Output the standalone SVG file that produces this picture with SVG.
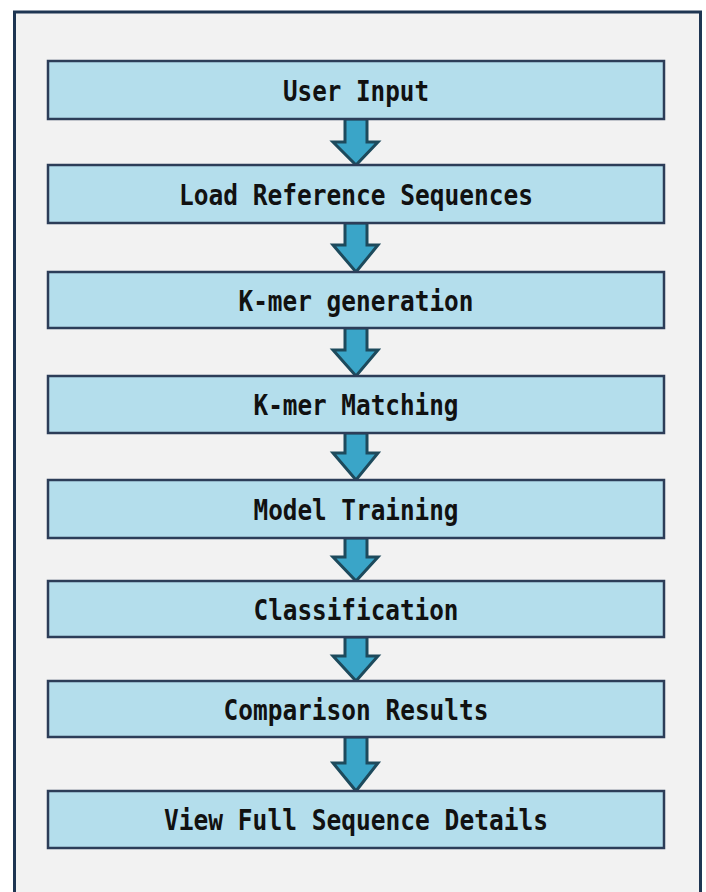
<svg xmlns="http://www.w3.org/2000/svg" width="706" height="892" viewBox="0 0 706 892">
<style>
.box{fill:#b4deec;stroke:#2c3d58;stroke-width:2.5}
.lbl{font-family:"DejaVu Sans Mono","Liberation Mono",monospace;font-size:29px;font-weight:bold;fill:#111;text-anchor:middle}
.arr{fill:#3aa5c8;stroke:#1d4a5c;stroke-width:3;stroke-linejoin:miter}
</style>
<rect x="0" y="0" width="706" height="892" fill="#ffffff"/>
<rect x="14.5" y="12" width="686" height="900" fill="#f2f2f2" stroke="#1e3552" stroke-width="3"/>
<g id="connectors">
<path class="arr" d="M345,119 V142 H333 L356,165 L378,142 H367 V119 Z"/>
<path class="arr" d="M345,223 V245 H333 L356,272 L378,245 H367 V223 Z"/>
<path class="arr" d="M345,328 V350 H333 L356,376 L378,350 H367 V328 Z"/>
<path class="arr" d="M345,433 V453 H333 L356,480 L378,453 H367 V433 Z"/>
<path class="arr" d="M345,538 V557 H333 L356,581 L378,557 H367 V538 Z"/>
<path class="arr" d="M345,637 V656 H333 L356,681 L378,656 H367 V637 Z"/>
<path class="arr" d="M345,737 V763 H333 L356,791 L378,763 H367 V737 Z"/>
</g>
<g id="n1"><rect class="box" x="48" y="61" width="616" height="58"/><text class="lbl" x="356" y="101" textLength="146" lengthAdjust="spacingAndGlyphs">User Input</text></g>
<g id="n2"><rect class="box" x="48" y="165" width="616" height="58"/><text class="lbl" x="356" y="205" textLength="354" lengthAdjust="spacingAndGlyphs">Load Reference Sequences</text></g>
<g id="n3"><rect class="box" x="48" y="272" width="616" height="56"/><text class="lbl" x="356" y="311" textLength="235" lengthAdjust="spacingAndGlyphs">K-mer generation</text></g>
<g id="n4"><rect class="box" x="48" y="376" width="616" height="57"/><text class="lbl" x="356" y="415" textLength="205" lengthAdjust="spacingAndGlyphs">K-mer Matching</text></g>
<g id="n5"><rect class="box" x="48" y="480" width="616" height="58"/><text class="lbl" x="356" y="520" textLength="205" lengthAdjust="spacingAndGlyphs">Model Training</text></g>
<g id="n6"><rect class="box" x="48" y="581" width="616" height="56"/><text class="lbl" x="356" y="620" textLength="205" lengthAdjust="spacingAndGlyphs">Classification</text></g>
<g id="n7"><rect class="box" x="48" y="681" width="616" height="56"/><text class="lbl" x="356" y="720" textLength="265" lengthAdjust="spacingAndGlyphs">Comparison Results</text></g>
<g id="n8"><rect class="box" x="48" y="791" width="616" height="57"/><text class="lbl" x="356" y="830" textLength="384" lengthAdjust="spacingAndGlyphs">View Full Sequence Details</text></g>
</svg>
